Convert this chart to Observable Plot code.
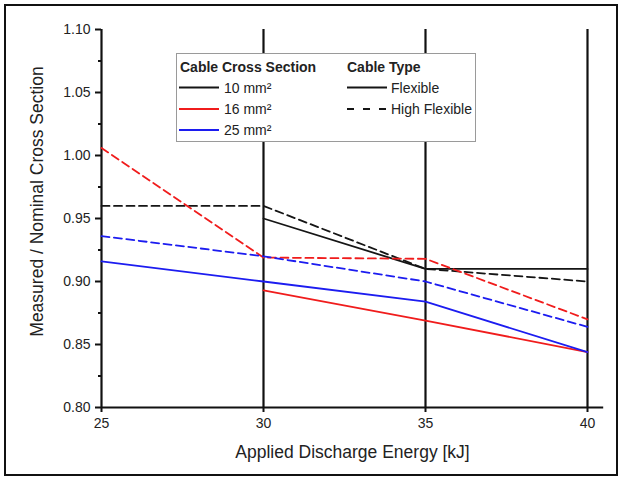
<!DOCTYPE html>
<html>
<head>
<meta charset="utf-8">
<script src="https://cdn.jsdelivr.net/npm/d3@7"></script>
<script src="https://cdn.jsdelivr.net/npm/@observablehq/plot@0.6"></script>
<style>
  html, body { margin: 0; padding: 0; background: #fff; }
  #wrap { position: relative; width: 620px; height: 477px; font-family: "Liberation Sans", Arial, sans-serif; overflow: hidden; }
  #chart { position: absolute; left: 0; top: 0; }
  #frame { position: absolute; left: 4px; top: 4px; width: 614px; height: 472px; border: 2px solid #111; box-sizing: border-box; pointer-events: none; }
  #legend { position: absolute; left: 176px; top: 53px; width: 300px; height: 89px; background: #fff; border: 1px solid #9a9a9a; box-sizing: border-box; }
  #legend svg { position: absolute; left: -1px; top: -1px; overflow: visible; }
</style>
</head>
<body>
<div id="wrap">
  <div id="chart"></div>
  <div id="legend"></div>
  <div id="frame"></div>
</div>
<script>
// ---- data ----
const energy = [25, 30, 35, 40];
const sizes = ["10 mm²", "16 mm²", "25 mm²"];
const sizeColors = ["#151515", "#f01c1c", "#1c1cf0"];
const types = ["Flexible", "High Flexible"];

const flex10 = [null, 0.950, 0.910, 0.910];
const flex16 = [null, 0.893, 0.869, 0.844];
const flex25 = [0.916, 0.900, 0.884, 0.844];
const high10 = [0.960, 0.960, 0.910, 0.900];
const high16 = [1.006, 0.919, 0.918, 0.870];
const high25 = [0.936, 0.920, 0.900, 0.864];

const xTicks = [25, 30, 35, 40];
const yMajor = [0.80, 0.85, 0.90, 0.95, 1.00, 1.05, 1.10];
const yMinor = [0.825, 0.875, 0.925, 0.975, 1.025, 1.075];
const xAxisEnd = 40.5;

const xLabel = "Applied Discharge Energy [kJ]";
const yLabel = "Measured / Nominal Cross Section";
const legendTitleSize = "Cable Cross Section";
const legendTitleType = "Cable Type";

// ---- tidy table ----
const series = [
  [flex10, sizes[0], types[0]], [flex16, sizes[1], types[0]], [flex25, sizes[2], types[0]],
  [high10, sizes[0], types[1]], [high16, sizes[1], types[1]], [high25, sizes[2], types[1]]
];
const rows = series.flatMap(([vals, size, type]) =>
  energy.map((e, i) => ({energy: e, value: vals[i], size, type})).filter(d => d.value != null));

const font = "'Liberation Sans', Arial, sans-serif";
const dash = "8,4.5";

const plot = Plot.plot({
  width: 620, height: 477,
  marginLeft: 101, marginRight: 33, marginTop: 29, marginBottom: 70,
  x: {domain: [25, 40]},
  y: {domain: [0.8, 1.1]},
  color: {domain: sizes, range: sizeColors},
  style: {fontFamily: font, fontSize: "14px", color: "#222", background: "#fff", overflow: "visible"},
  marks: [
    Plot.ruleX(xTicks, {y1: yMajor[0], y2: yMajor[yMajor.length - 1], stroke: "#111", strokeWidth: 2.2}),
    Plot.ruleY([yMajor[0]], {x1: xTicks[0], x2: xAxisEnd, stroke: "#111", strokeWidth: 2.2}),
    Plot.line(rows.filter(d => d.type === types[0]), {x: "energy", y: "value", z: "size", stroke: "size", strokeWidth: 1.8}),
    Plot.line(rows.filter(d => d.type === types[1]), {x: "energy", y: "value", z: "size", stroke: "size", strokeWidth: 1.8, strokeDasharray: dash}),
    Plot.axisY(yMajor, {tickSize: 6, tickPadding: 5, tickFormat: d => d.toFixed(2), label: null, stroke: "#111", strokeWidth: 2, fontSize: 14, fill: "#222"}),
    Plot.axisY(yMinor, {tickSize: 3, tickFormat: () => "", label: null, stroke: "#111", strokeWidth: 2}),
    Plot.axisX(xTicks, {tickSize: 5, tickPadding: 6, tickFormat: d => String(d), label: null, stroke: "#111", strokeWidth: 2, fontSize: 14, fill: "#222"}),
    Plot.text([xLabel], {text: d => d, frameAnchor: "bottom", lineAnchor: "bottom", dy: 50, dx: 8, fontSize: 17.5, fill: "#222"}),
    Plot.text([yLabel], {text: d => d, frameAnchor: "left", textAnchor: "middle", rotate: -90, lineAnchor: "middle", dx: -64, dy: -17, fontSize: 17.5, fill: "#222"})
  ]
});
document.getElementById("chart").appendChild(plot);

// ---- legend (inside plot area, drawn as overlay) ----
const lg = d3.select("#legend").append("svg").attr("width", 300).attr("height", 89)
  .style("font-family", font);
lg.append("text").attr("x", 4).attr("y", 19).attr("font-weight", "bold").attr("font-size", 14).attr("fill", "#222").text(legendTitleSize);
lg.append("text").attr("x", 171).attr("y", 19).attr("font-weight", "bold").attr("font-size", 14).attr("fill", "#222").text(legendTitleType);
const rowY = [34.5, 56, 77];
sizes.forEach((s, i) => {
  lg.append("line").attr("x1", 3).attr("x2", 43).attr("y1", rowY[i]).attr("y2", rowY[i])
    .attr("stroke", sizeColors[i]).attr("stroke-width", 2);
  lg.append("text").attr("x", 48).attr("y", rowY[i] + 5).attr("font-size", 14).attr("fill", "#222").text(s);
});
types.forEach((t, i) => {
  lg.append("line").attr("x1", 171).attr("x2", 211).attr("y1", rowY[i]).attr("y2", rowY[i])
    .attr("stroke", "#151515").attr("stroke-width", 2).attr("stroke-dasharray", i === 0 ? null : "7,9");
  lg.append("text").attr("x", 215).attr("y", rowY[i] + 5).attr("font-size", 14).attr("fill", "#222").text(t);
});
</script>
</body>
</html>
